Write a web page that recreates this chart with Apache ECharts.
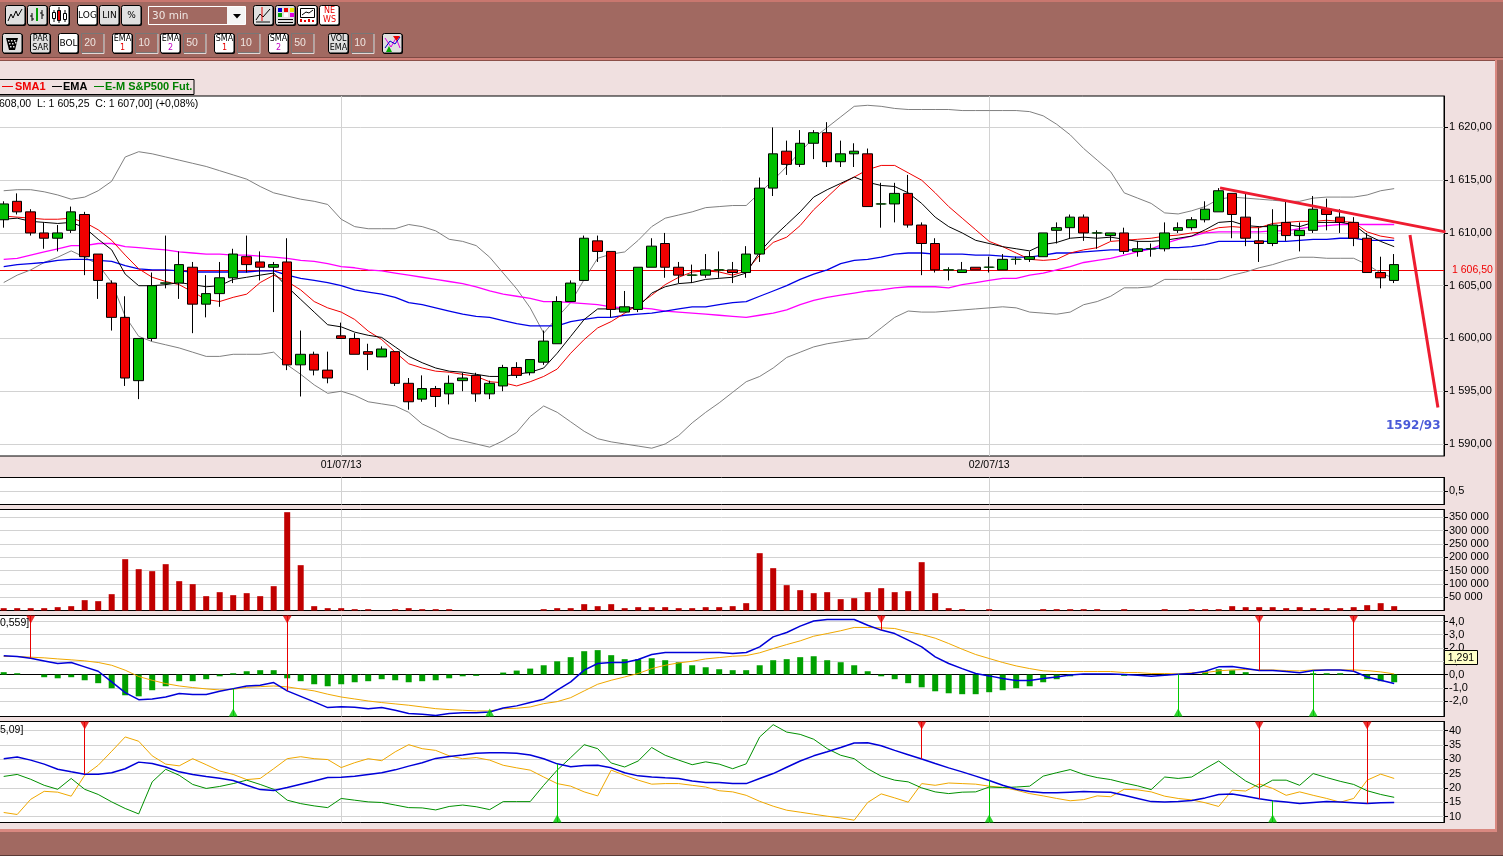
<!DOCTYPE html>
<html><head><meta charset="utf-8">
<style>html,body{margin:0;padding:0;background:#F0E0E0;overflow:hidden}#c{width:1503px;height:856px}</style>
<script src="https://cdn.jsdelivr.net/npm/echarts@6/dist/echarts.min.js"></script></head>
<body><div id="c"></div>
<script>
// ---------- data ----------
const dateTicks = [25, 73];
const dateLabels = ['01/07/13', '02/07/13'];
const priceTicks = [1590,1595,1600,1605,1610,1615,1620];
const ratioTicks = [0.5];
const volumeTicks = [50000,100000,150000,200000,250000,300000,350000];
const macdTicks = [-2,-1,0,1,2,3,4];
const adxTicks = [10,15,20,25,30,35,40];
const lastPrice = 1606.5;

const candleOpen = [1611.25,1613,1612,1610,1609.5,1610.25,1611.75,1608,1605.25,1602,
1596,1600,1605.25,1605.25,1606.75,1603.25,1604.25,1605.75,1607.75,1607.25,
1606.75,1607.25,1597.5,1598.5,1597,1600.25,1600,1598.75,1598.25,1598.75,
1595.75,1594.25,1595.25,1594.75,1596,1596.5,1594.75,1595.5,1597.25,1596.75,
1597.75,1599.5,1603.5,1605.5,1609.25,1608.25,1602.5,1602.75,1606.75,1609,
1606.75,1606,1606,1606.5,1606.5,1606.25,1608,1614.25,1617.75,1616.5,
1618.5,1619.5,1616.75,1617.5,1617.5,1612.75,1612.75,1613.75,1610.75,1609,
1606.5,1606.25,1606.75,1606.75,1606.5,1607.5,1607.5,1607.75,1610.25,1610.5,
1611.5,1610,1609.75,1610,1608.25,1608.5,1608.5,1610.25,1610.5,1611.25,
1612,1613.75,1611.5,1609.25,1609,1611,1609.75,1610.25,1612.25,1611.5,
1611,1609.5,1606.25,1605.5];
const candleClose = [1612.75,1612,1610,1609.5,1610,1612,1607.75,1605.5,1602,1596.25,
1600,1605,1605.25,1607,1603.25,1604.25,1605.75,1608,1607,1606.75,
1607,1597.5,1598.5,1597,1596.25,1600,1598.5,1598.5,1599,1595.75,
1594,1595.25,1594.5,1595.75,1596.25,1594.75,1595.75,1597.25,1596.5,1598,
1599.75,1603.5,1605.25,1609.5,1608.25,1602.75,1603,1606.75,1608.75,1606.75,
1606,1606,1606.5,1606.5,1606.25,1608,1614.25,1617.5,1616.5,1618.5,
1619.5,1616.75,1617.5,1617.75,1612.5,1612.75,1613.75,1610.75,1609,1606.5,
1606.5,1606.5,1606.5,1606.75,1607.5,1607.5,1607.75,1610,1610.5,1611.5,
1610,1610,1610,1608.25,1608.5,1608.5,1610,1610.5,1611.25,1612.25,
1614,1611.75,1609.5,1609,1610.75,1609.75,1610.25,1612.25,1611.75,1611,
1609.5,1606.25,1605.75,1607];
const candleLow = [1610.5,1611.75,1609.75,1608.5,1608.25,1610,1606,1603.75,1600.75,1595.5,
1594.25,1599.75,1604.75,1603.75,1600.5,1602,1603,1605.25,1606.25,1605.5,
1602.5,1597,1594.5,1596.5,1595.75,1600,1598.5,1597,1598.25,1595.5,
1593.25,1594,1593.5,1593.75,1595,1594,1594.25,1595,1596.25,1596.5,
1597.5,1599.5,1603.5,1605.5,1607.25,1602,1602.5,1602.5,1606.75,1605.75,
1605.25,1605.25,1605.75,1605.75,1605.25,1605.75,1607.25,1613.5,1615.5,1616.25,
1617,1616.25,1616.25,1616.25,1612.5,1610.5,1611,1610.5,1606,1606.25,
1605.5,1606.25,1606.5,1606.25,1606.5,1607,1607.25,1607.75,1609,1609.5,
1609.25,1608.5,1609.25,1608,1607.75,1607.75,1608.25,1610,1610.25,1611,
1612,1609.5,1608.75,1607.25,1608.75,1609.25,1608.25,1610,1610.25,1610,
1608.75,1606.25,1604.75,1605.25];
const candleHigh = [1613,1613.75,1612.25,1611,1610.75,1612.5,1612,1608,1605.5,1604,
1600,1606.25,1609.75,1608.25,1607.25,1606,1607.25,1608.5,1609.75,1608.25,
1607.25,1609.5,1600.75,1598.75,1598.75,1601.5,1600.5,1599.5,1599.25,1598.75,
1596.25,1596.5,1595.5,1596.5,1596.75,1596.75,1596,1597.5,1597.75,1598,
1600.75,1604,1605.5,1609.75,1609.75,1608.25,1604.5,1606.75,1609.5,1610,
1607.25,1607,1608,1608.25,1607.25,1608.75,1615.25,1620,1618.75,1619.75,
1619.75,1620.5,1618.75,1618.5,1618,1614.75,1614.75,1615.5,1611,1609.5,
1606.75,1607.25,1606.75,1607.75,1608,1607.75,1608.25,1610,1611,1611.75,
1611.75,1610.25,1610,1610.5,1609.25,1609,1611,1611,1611.5,1613,
1614.25,1613.75,1613.75,1610.5,1612.25,1613,1611,1613.5,1613.25,1612.25,
1611.5,1610,1607.75,1608];

const bollUpper = [1614.0,1614.1,1614.1,1613.9,1613.6,1613.2,1613.4,1614.0,1614.9,1617.2,
1617.7,1617.5,1617.2,1616.9,1616.6,1616.3,1615.9,1615.5,1615.1,1614.4,
1613.8,1613.5,1613.2,1613.0,1612.7,1611.3,1610.6,1610.4,1610.4,1610.4,
1610.8,1610.6,1610.2,1609.4,1609.2,1608.8,1607.7,1606.2,1604.7,1602.9,
1600.5,1602.0,1603.4,1605.6,1607.6,1608.0,1608.2,1609.3,1610.6,1611.4,
1611.7,1612.0,1612.4,1612.5,1612.6,1612.6,1613.8,1615.0,1616.3,1617.7,
1619.0,1620.0,1621.0,1622.0,1622.1,1622.0,1621.8,1621.7,1621.7,1621.7,
1621.7,1621.6,1621.6,1621.6,1621.6,1621.6,1621.5,1621.1,1620.3,1619.3,
1618.0,1616.9,1615.8,1613.8,1613.3,1612.8,1611.9,1611.8,1612.1,1612.5,
1613.2,1613.4,1613.3,1613.2,1613.1,1613.0,1613.0,1613.3,1613.4,1613.4,
1613.4,1613.6,1614.0,1614.2];
const bollLower = [1605.3,1606.0,1606.5,1607.2,1607.7,1608.3,1607.7,1607.0,1605.3,1602.1,
1600.2,1599.7,1599.4,1599.1,1598.7,1598.3,1598.3,1598.5,1598.5,1598.5,
1598.7,1597.5,1596.6,1595.6,1594.8,1595.0,1594.6,1594.0,1593.8,1593.6,
1593.0,1591.9,1591.3,1590.6,1590.3,1590.0,1589.7,1590.3,1591.1,1592.6,
1593.6,1593.0,1592.1,1591.2,1590.5,1590.2,1590.0,1589.8,1589.6,1590.0,
1590.8,1592.0,1593.0,1593.9,1594.9,1595.9,1596.4,1597.2,1598.2,1598.7,
1599.2,1599.5,1599.7,1599.9,1600.0,1601.0,1602.0,1602.6,1602.5,1602.5,
1602.6,1602.7,1602.8,1602.9,1603.0,1602.9,1602.5,1602.4,1602.3,1602.5,
1603.2,1603.5,1604.0,1604.8,1604.8,1604.9,1605.6,1605.6,1605.6,1605.6,
1605.6,1606.0,1606.3,1606.7,1607.0,1607.4,1607.7,1607.7,1607.6,1607.6,
1607.6,1607.0,1606.2,1605.7];
const smaFast = [1611.6,1611.5,1611.4,1611.3,1611.3,1611.4,1611.0,1610.3,1609.3,1607.9,
1606.6,1605.8,1605.4,1605.1,1604.4,1603.7,1603.5,1603.9,1604.2,1605.3,
1606.0,1605.4,1604.6,1603.5,1602.9,1602.5,1601.8,1600.7,1599.9,1598.7,
1597.6,1597.2,1596.9,1596.8,1596.6,1596.4,1595.9,1595.8,1595.5,1595.9,
1596.4,1597.1,1598.6,1599.9,1601.0,1601.6,1602.4,1603.2,1604.1,1605.1,
1605.8,1606.3,1606.4,1606.3,1606.0,1606.4,1607.9,1609.1,1609.6,1610.7,
1612.2,1613.4,1614.6,1615.3,1616.0,1616.4,1616.4,1615.7,1615.0,1613.8,
1612.5,1611.4,1610.3,1609.2,1608.7,1608.1,1607.5,1607.4,1607.5,1608.1,
1608.4,1608.6,1609.2,1609.3,1609.4,1609.5,1609.7,1609.8,1610.0,1610.1,
1610.5,1610.6,1610.5,1610.5,1610.9,1611.0,1611.1,1611.1,1611.2,1611.1,
1611.0,1610.1,1609.7,1609.5];
const emaFast = [1611.3,1611.4,1611.1,1611.0,1610.9,1611.0,1610.5,1609.4,1608.4,1606.1,
1605.0,1605.0,1605.1,1605.3,1605.1,1604.9,1605.0,1605.6,1605.8,1606.0,
1606.2,1604.9,1603.7,1602.5,1601.3,1601.1,1600.6,1600.3,1600.1,1599.2,
1598.3,1597.7,1597.2,1596.9,1596.8,1596.6,1596.4,1596.4,1596.6,1596.8,
1597.2,1598.6,1600.2,1601.8,1602.8,1602.8,1602.8,1603.0,1604.3,1604.9,
1605.2,1605.3,1605.6,1605.7,1605.8,1606.2,1608.2,1609.6,1610.8,1612.0,
1613.4,1614.1,1614.7,1615.3,1614.8,1614.5,1614.4,1613.8,1612.8,1611.5,
1610.6,1610.0,1609.3,1609.0,1608.7,1608.5,1608.3,1608.9,1609.1,1609.5,
1609.6,1609.5,1609.6,1609.4,1609.2,1609.2,1609.3,1609.5,1609.7,1610.3,
1611.0,1611.1,1610.7,1610.6,1610.6,1610.8,1610.6,1611.0,1611.0,1611.0,
1610.8,1609.8,1609.2,1608.7];
const emaSlow = [1606.8,1607.0,1607.1,1607.2,1607.4,1607.5,1607.5,1607.4,1607.3,1606.9,
1606.6,1606.5,1606.5,1606.4,1606.3,1606.3,1606.3,1606.3,1606.3,1606.4,
1606.4,1606.0,1605.7,1605.5,1605.3,1605.0,1604.6,1604.4,1604.2,1603.9,
1603.4,1603.2,1602.9,1602.6,1602.3,1602.1,1602.0,1601.7,1601.4,1601.2,
1601.2,1601.2,1601.6,1601.8,1602.0,1602.0,1602.2,1602.3,1602.4,1602.6,
1602.8,1603.0,1603.0,1603.2,1603.4,1603.5,1604.0,1604.5,1605.0,1605.6,
1606.1,1606.5,1607.1,1607.4,1607.5,1607.7,1608.0,1608.1,1608.1,1608.0,
1608.0,1608.0,1607.9,1607.9,1607.8,1607.7,1607.7,1607.9,1608.1,1608.1,
1608.2,1608.3,1608.4,1608.4,1608.4,1608.5,1608.6,1608.6,1608.7,1608.9,
1609.2,1609.2,1609.2,1609.2,1609.2,1609.2,1609.3,1609.4,1609.4,1609.5,
1609.5,1609.3,1609.3,1609.3];
const smaSlow = [1607.5,1607.6,1607.9,1608.2,1608.5,1608.8,1608.8,1609.0,1609.0,1608.7,
1608.6,1608.5,1608.4,1608.2,1608.1,1608.0,1608.0,1607.9,1607.9,1607.8,
1607.7,1607.6,1607.4,1607.3,1607.1,1606.8,1606.7,1606.5,1606.4,1606.2,
1606.0,1605.8,1605.6,1605.4,1605.2,1604.9,1604.5,1604.2,1604.0,1603.8,
1603.5,1603.5,1603.4,1603.3,1603.2,1603.0,1602.9,1602.9,1602.8,1602.6,
1602.5,1602.4,1602.3,1602.2,1602.1,1602.0,1602.2,1602.4,1602.7,1603.2,
1603.6,1603.9,1604.1,1604.3,1604.5,1604.6,1604.8,1604.9,1604.9,1604.9,
1604.8,1605.1,1605.3,1605.5,1605.7,1605.7,1606.0,1606.2,1606.5,1606.8,
1607.2,1607.4,1607.6,1607.9,1608.2,1608.5,1609.0,1609.4,1609.7,1610.0,
1610.1,1610.1,1610.1,1610.1,1610.2,1610.2,1610.4,1610.6,1610.7,1610.8,
1610.8,1610.8,1610.8,1610.8];
const trendLineA = [[90.1,1614.27],[106.8,1610.1]];
const trendLineB = [[104.17,1609.8],[106.24,1593.45]];

const volume = [8750,8750,8750,8750,12500,16250,38750,35000,61250,192500,
155000,147500,173750,110000,98750,53750,68750,57500,65000,53750,
91250,368750,170000,16250,8750,8750,5000,5000,0,5000,
8750,5000,5000,5000,0,0,0,0,0,0,
5000,8750,8750,23750,16250,23750,8750,12500,12500,12500,
8750,8750,12500,12500,16250,27500,215000,158750,95000,76250,
65000,68750,42500,46250,68750,83750,68750,72500,181250,65000,
8750,5000,0,5000,0,0,0,5000,5000,5000,
5000,5000,0,5000,0,0,5000,0,5000,5000,
5000,16250,12500,12500,12500,8750,12500,8750,8750,8750,
12500,20000,27500,16250];

const macdHist = [0.18,0.10,0,-0.2,-0.28,-0.2,-0.43,-0.65,-1.03,-1.56,
-1.64,-1.18,-0.88,-0.5,-0.5,-0.35,-0.13,0.1,0.25,0.33,
0.33,-0.28,-0.5,-0.73,-0.88,-0.73,-0.58,-0.5,-0.35,-0.43,
-0.58,-0.5,-0.43,-0.28,-0.13,-0.1,0,0.15,0.3,0.45,
0.7,1.0,1.31,1.76,1.84,1.46,1.16,1.16,1.23,1.08,
0.93,0.7,0.55,0.4,0.33,0.33,0.7,1.08,1.16,1.31,
1.38,1.08,0.93,0.7,0.25,-0.13,-0.35,-0.65,-0.96,-1.26,
-1.41,-1.48,-1.48,-1.33,-1.18,-1.03,-0.88,-0.58,-0.35,-0.13,
0,0,0,-0.1,0,0,-0.05,0,0,0.25,
0.4,0.33,0.18,0,0,0,0,0.1,0.1,0.1,
0,-0.35,-0.5,-0.58];
const macdLine = [1.41,1.36,1.23,1.03,0.83,0.91,0.58,0.25,-0.55,-1.36,
-1.89,-1.84,-1.69,-1.43,-1.51,-1.51,-1.26,-1.06,-0.86,-0.81,
-0.6,-1.23,-1.64,-2.06,-2.49,-2.42,-2.47,-2.57,-2.49,-2.69,
-2.94,-2.99,-3.09,-2.94,-2.87,-2.87,-2.82,-2.52,-2.36,-2.11,
-1.86,-1.18,-0.55,0.33,0.83,0.91,0.91,1.13,1.51,1.66,
1.66,1.66,1.66,1.66,1.58,1.66,2.09,2.84,3.17,3.65,
4.03,4.15,4.15,4.15,3.72,3.35,3.09,2.59,2.09,1.33,
0.83,0.45,0.08,-0.1,-0.3,-0.45,-0.45,-0.3,-0.18,-0.03,
0.05,0.05,0.05,0,-0.05,-0.13,-0.05,0.03,0.08,0.25,
0.58,0.6,0.45,0.3,0.3,0.23,0.13,0.3,0.35,0.35,
0.25,-0.18,-0.43,-0.68];
const macdSignal = [1.36,1.36,1.31,1.26,1.18,1.11,1.03,0.91,0.7,0.33,
-0.15,-0.43,-0.68,-0.86,-0.98,-1.08,-1.16,-1.11,-0.96,-0.91,
-0.86,-0.93,-1.08,-1.23,-1.48,-1.69,-1.84,-1.99,-2.11,-2.21,
-2.31,-2.44,-2.57,-2.64,-2.69,-2.74,-2.74,-2.57,-2.54,-2.44,
-2.19,-2.04,-1.74,-1.23,-0.73,-0.43,-0.18,0.08,0.45,0.7,
0.88,1.0,1.18,1.28,1.38,1.43,1.64,1.96,2.26,2.54,
2.89,3.09,3.3,3.55,3.55,3.52,3.47,3.22,3.02,2.74,
2.34,1.91,1.51,1.21,0.91,0.65,0.45,0.28,0.23,0.23,
0.23,0.23,0.23,0.15,0.15,0.08,0.08,0.05,0.13,0.15,
0.28,0.35,0.38,0.35,0.35,0.3,0.28,0.35,0.35,0.35,
0.35,0.3,0.2,0.05];
const macdSellBars = [2,21,65,93,100];
const macdBuyBars = [17,36,87,97];

const adxLine = [30.2,30.8,29.7,28.3,26.5,25.6,24.8,24.8,25.3,26.7,
29.0,28.5,27.3,25.6,24.7,24.0,23.4,22.6,20.9,19.4,
19.1,20.1,21.3,22.4,23.6,23.7,24.1,24.7,25.3,26.3,
27.6,28.8,30.3,31.0,31.5,32.1,32.3,32.3,32.1,31.5,
30.2,28.4,27.4,27.8,27.9,27.0,25.3,24.2,23.8,23.5,
23.3,22.4,21.9,21.9,21.5,21.5,23.3,25.0,27.2,29.4,
31.2,32.6,34.1,35.7,35.8,34.7,33.1,31.6,30.1,28.5,
27.0,25.6,24.1,22.6,20.9,19.5,18.7,18.3,18.3,18.5,
18.7,18.6,18.5,17.4,16.3,15.2,15.1,15.2,15.6,16.5,
17.7,17.9,17.1,16.2,15.5,15.1,14.5,14.9,15.2,15.1,
14.8,14.5,14.8,14.9];
const diGreen = [24,24.7,23,20.9,19.5,23.3,19.5,17.7,15.1,12.8,
10.9,22.1,26.5,24.4,21.2,19.8,20.5,21.5,22.7,21.2,
19.5,15.7,14.5,13.7,13.1,16.3,15.7,15.1,14.9,14,
13.1,13,12.3,13.5,14,13.4,12.4,15.2,15.2,15.2,
20.9,26.2,30.6,35.1,33.7,28.7,27.3,29.4,34.1,31.4,
29.7,28.1,29.1,28.3,26.7,28.4,37.8,42.1,39.5,38.7,
37,33.7,31.4,30.2,26.7,24.1,22.7,22.1,20,18.6,
18,18.5,18.6,20.3,20.1,20.3,20.6,24.1,25.3,26.4,
24.7,23.6,22.9,21.7,20.7,19.4,23.8,23.3,23.8,26.7,
29.4,25.8,22.4,20.1,22.7,22.7,20.9,25,23.6,22.3,
21.2,19,17.7,16.7];
const diOrange = [11.4,10.7,16,18.8,18.5,17.1,24.4,27.9,32.8,37.8,
36.3,31.2,28.3,27.7,30.2,28.1,25.9,24.7,22.9,23.3,
26.7,30.2,30.9,30.2,29.9,27.1,28.8,30.2,29.5,32.6,
35.1,33.7,33.1,31.2,30.2,30.6,29.7,27.9,27,26.2,
23.8,21.5,20.6,18.6,17.2,26.2,24.4,22.7,21.3,21.5,
21.5,20.9,20.3,19,18.6,17.4,15.3,13.6,12.2,11.5,
10.8,10.1,9.5,8.7,14.9,17.9,16.5,15,21.5,20.9,
21.7,21.5,21.3,20.6,20.2,19.2,18,17.2,16.3,15.5,
15.9,17.2,16.9,19.5,19.3,18.6,17.1,16.3,15.8,14.8,
13.5,19.2,18.9,21.4,19.8,17.4,18.6,17.4,16.3,15,
16.3,22.7,24.8,23.3];
const adxSellBars = [6,68,93,101];
const adxBuyBars = [41,73,94];

// ---------- layout ----------
const FONT = '"Liberation Sans", Arial, sans-serif';
const X_MIN = -0.348, X_MAX = 106.69;
const panes = [
 {top:96, height:360, min:1588.86, max:1622.98},
 {top:477.5, height:27, min:0, max:1},
 {top:509.5, height:101, min:0, max:378800},
 {top:615.5, height:101, min:-3.16, max:4.45},
 {top:721.5, height:101, min:7.9, max:43.2}
];
const tickSets = [priceTicks, ratioTicks, volumeTicks, macdTicks, adxTicks];
const fmt = [
 v => { const s = v.toFixed(2).replace('.',','); return s[0] + ' ' + s.slice(1); },
 v => v.toFixed(1).replace('.',','),
 v => { const s = String(v); return s.slice(0,-3) + ' ' + s.slice(-3); },
 v => v.toFixed(1).replace('.',','),
 v => String(v)
];
const grids = panes.map(p => ({left:-1, width:1445, top:p.top, height:p.height, show:true, outerBoundsMode:'none',
  backgroundColor:'#fff', borderColor:'#000', borderWidth:1, containLabel:false}));
const xAxes = panes.map((p,i) => ({type:'value', gridIndex:i, min:X_MIN, max:X_MAX, position:'bottom',
  axisLine: i===3 ? {show:true, onZero:true, lineStyle:{color:'#000',width:1}} : {show:false, onZero:false},
  axisTick:{show:false, customValues:dateTicks},
  axisLabel: i===0 ? {show:true, customValues:dateTicks, margin:4, fontSize:10.5, fontFamily:FONT, color:'#000',
      formatter:v => dateLabels[dateTicks.indexOf(v)]} : {show:false},
  splitLine:{show:true, lineStyle:{color:'#d2d2d2',width:1}}}));
const yAxes = panes.map((p,i) => ({type:'value', gridIndex:i, min:p.min, max:p.max, position:'right', scale:true,
  axisLine:{show:true, onZero:false, lineStyle:{color:'#000'}},
  axisTick:{show:true, length:4, lineStyle:{color:'#000'}, customValues:tickSets[i]},
  axisLabel:{show:true, customValues:tickSets[i], margin:5, fontSize:11, fontFamily:FONT, color:'#000', formatter:fmt[i]},
  splitLine:{show:true, lineStyle:{color:'#d2d2d2',width:1}}}));

const idx = a => a.map((v,i) => [i,v]);
const lineS = (name, data, pane, color, width, z) => ({name, type:'line', xAxisIndex:pane, yAxisIndex:pane, data,
  showSymbol:false, symbol:'none', silent:true, animation:false, z, clip:true,
  lineStyle:{color, width}, itemStyle:{color}});

function signals(name, bars, line, pane, color, fromTop){
  const p = panes[pane];
  const edge = fromTop ? p.max : p.min;
  return [
   {name:name+' stem', type:'line', xAxisIndex:pane, yAxisIndex:pane, data:[], z:6, silent:true, animation:false,
    markLine:{silent:true, symbol:'none', animation:false, label:{show:false}, lineStyle:{color,width:1,type:'solid'},
      data:bars.map(b => [{coord:[b,edge]},{coord:[b,line[b]]}])}},
   {name:name+' mark', type:'scatter', xAxisIndex:pane, yAxisIndex:pane, clip:false, silent:true, animation:false, z:7,
    data:bars.map(b => [b,edge]), symbol:'triangle', symbolSize:[9,8],
    symbolRotate: fromTop ? 180 : 0, symbolOffset:[0, fromTop ? 4 : -4], itemStyle:{color}}
  ];
}

const dojiBars = candleOpen.map((o,i) => o===candleClose[i] ? [i,o] : null).filter(Boolean);
const series = [
 Object.assign(lineS('Last', [], 0, '#f00000', 1, 1), {
   markLine:{silent:true, symbol:'none', animation:false, z:1, lineStyle:{color:'#f00000',width:1,type:'solid'},
     label:{show:true, position:'end', distance:8, formatter:()=>fmt[0](lastPrice), color:'#f00000', fontSize:10.5, fontFamily:FONT},
     data:[{yAxis:lastPrice}]}}),
 lineS('Boll upper', idx(bollUpper), 0, '#808080', 1, 2),
 lineS('Boll lower', idx(bollLower), 0, '#808080', 1, 2),
 lineS('SMA2', idx(smaSlow), 0, '#ff00ff', 1.3, 3),
 lineS('EMA2', idx(emaSlow), 0, '#0000e6', 1.3, 3),
 lineS('SMA1', idx(smaFast), 0, '#f00000', 1, 3),
 lineS('EMA1', idx(emaFast), 0, '#000000', 1, 3),
 {name:'E-M S&P500 Fut.', type:'candlestick', xAxisIndex:0, yAxisIndex:0, barWidth:10, silent:true, animation:false, z:5, clip:true,
  data:candleOpen.map((o,i) => [i,o,candleClose[i],candleLow[i],candleHigh[i]]),
  itemStyle:{color:'#00c000', color0:'#f00000', borderColor:'#000', borderColor0:'#000', borderColorDoji:'#000', borderWidth:1}},
 {name:'Doji', type:'scatter', xAxisIndex:0, yAxisIndex:0, data:dojiBars, symbol:'rect', symbolSize:[11,1], silent:true, animation:false, z:6,
  itemStyle:{color:'#007800'}},
 lineS('Trend A', trendLineA, 0, '#ee1c30', 3, 8),
 lineS('Trend B', trendLineB, 0, '#ee1c30', 3, 8),
 {name:'Volume', type:'bar', xAxisIndex:2, yAxisIndex:2, barWidth:6, data:idx(volume), silent:true, animation:false,
  itemStyle:{color:'#c00000'}, z:3},
 {name:'MACD hist', type:'bar', xAxisIndex:3, yAxisIndex:3, barWidth:6, data:idx(macdHist), silent:true, animation:false,
  itemStyle:{color:'#00a000'}, z:2},
 lineS('MACD signal', idx(macdSignal), 3, '#f0a800', 1, 3),
 lineS('MACD', idx(macdLine), 3, '#0000d8', 1.5, 4),
 ...signals('MACD sell', macdSellBars, macdLine, 3, '#e80000', true),
 ...signals('MACD buy', macdBuyBars, macdLine, 3, '#00c800', false),
 lineS('DI orange', idx(diOrange), 4, '#f0a800', 1, 3),
 lineS('DI green', idx(diGreen), 4, '#009000', 1, 3),
 lineS('ADX', idx(adxLine), 4, '#0000d8', 1.5, 4),
 ...signals('ADX sell', adxSellBars, adxLine, 4, '#e80000', true),
 ...signals('ADX buy', adxBuyBars, adxLine, 4, '#00c800', false)
];

// ---------- window chrome ----------
const BROWN = '#a16961', PINK = '#f0e0e0', GREY = '#e0e0e0';
const g = [];
const rect = (x,y,w,h,fill,stroke,r) => g.push({type:'rect', z:50, silent:true, shape:{x,y,width:w,height:h,r:r||0},
   style:{fill:fill||'none', stroke:stroke||'none', lineWidth:1}});
const text = (x,y,t,o) => g.push({type:'text', z:60, silent:true, x, y, style:Object.assign({text:t, fill:'#000',
   font:'10.5px '+FONT, textAlign:'left', textVerticalAlign:'middle'}, o||{})});
const poly = (pts,stroke,w) => g.push({type:'polyline', z:55, silent:true, shape:{points:pts}, style:{stroke, lineWidth:w||1, fill:'none'}});

rect(0,0,1503,58,BROWN); rect(0,0,1503,2,'#c9776f'); rect(0,57,1503,1,'#7f4a44'); rect(0,58,1503,2,'#cf7f77'); rect(0,60,1503,1,'#8c5049');
rect(0,829,1503,3,'#d98880'); rect(0,832,1503,24,BROWN); rect(0,855,1503,1,'#5a3a36');
rect(1495,60,8,772,BROWN); rect(1495,60,2,772,'#d98880');

function button(x,y,w,h,fill,lines,colors){
  rect(x+1,y+1,w,h,'#000',null,2);
  rect(x+.5,y+.5,w-.5,h-.5,fill,'#000',2);
  (lines||[]).forEach((t,i,a) => text(x+w/2+.5, y+h/2+.5+(i-(a.length-1)/2)*9, t,
    {textAlign:'center', font:(a.length>1?'8px ':'9px ')+'"DejaVu Sans", sans-serif', fill:(colors&&colors[i])||'#000'}));
}
function field(x,y,t){
  rect(x+.5,y+.5,22,19,BROWN,'#777777');
  poly([[x+23,y+1],[x+23,y+20.5],[x+1,y+20.5]],'#e4d8d6',1);
  text(x+9,y+10.5,t,{textAlign:'center', fill:'#efe6e2', font:'10.5px '+FONT});
}
// first row
button(5,5,20,20,GREY);
poly([[8,21],[11,14],[13,18],[16,11],[18,16],[22,9]],'#000',1);
button(27,5,20,20,GREY);
poly([[32,13],[32,21]],'#000',1); poly([[30,16],[32,16]],'#000',1); poly([[32,19],[34,19]],'#000',1);
poly([[37,8],[37,21]],'#00a000',2); poly([[42,10],[42,19]],'#000',1); poly([[40,13],[42,13]],'#000',1); poly([[42,15],[44,15]],'#000',1);
button(49,5,20,20,'#fff');
poly([[54,10],[54,22]],'#000',1); poly([[59,7],[59,23]],'#000',1); poly([[65,10],[65,22]],'#000',1);
g.push({type:'rect', z:56, silent:true, shape:{x:52.5,y:12.5,width:3,height:6}, style:{fill:'#fff',stroke:'#000'}});
g.push({type:'rect', z:56, silent:true, shape:{x:57.5,y:10.5,width:3,height:10}, style:{fill:'#e80000',stroke:'#000'}});
g.push({type:'rect', z:56, silent:true, shape:{x:63.5,y:13.5,width:3,height:6}, style:{fill:'#fff',stroke:'#000'}});
button(77,5,20,20,'#fff',['LOG']);
button(99,5,20,20,GREY,['LIN']);
button(121,5,20,20,GREY,['%']);
rect(148.5,6.5,97,18,BROWN,'#ffffff'); rect(227,7,18,17,'#f5f5f5');
text(152,16,'30 min',{fill:'#efe6e2', font:'10.5px "DejaVu Sans", sans-serif'});
g.push({type:'polygon', z:60, silent:true, shape:{points:[[233,14],[241,14],[237,18.5]]}, style:{fill:'#000'}});
button(253,5,20,20,GREY);
poly([[256,20],[260,14],[263,17],[270,9]],'#000',1); poly([[262,7],[262,22]],'#e80000',1); poly([[256,22],[270,22]],'#777',2);
button(275,5,20,20,GREY);
[[278,8,'#0000d0'],[284,8,'#e80000'],[290,8,'#e8e800'],[278,13,'#00a000'],[284,13,'#ffffff'],[290,13,'#e000e0']].forEach(c =>
  g.push({type:'rect', z:56, silent:true, shape:{x:c[0],y:c[1],width:4,height:4}, style:{fill:c[2]}}));
poly([[278,19.5],[293,19.5]],'#000',1); poly([[278,22.5],[293,22.5]],'#000',1);
button(297,5,20,20,'#fff');
g.push({type:'rect', z:54, silent:true, shape:{x:300.5,y:8.5,width:14,height:9}, style:{fill:'#fff',stroke:'#000'}});
poly([[302,15],[306,12],[309,13],[313,10]],'#000',1);
poly([[301,22],[301,19]],'#e80000',2); poly([[305,22],[305,20]],'#e80000',2); poly([[309,22],[309,19]],'#e80000',2); poly([[313,22],[313,20]],'#e80000',2);
button(319,5,20,20,'#fff',['NE','WS'],['#e80000','#e80000']);
// second row
button(2,33,20,20,GREY);
g.push({type:'polygon', z:56, silent:true, shape:{points:[[6,38],[18,38],[15,50],[9,50]]}, style:{fill:'#000'}});
[[8,40],[11,40],[14,40],[9,43],[12,43],[15,42],[10,46],[13,46]].forEach(p =>
  g.push({type:'rect', z:57, silent:true, shape:{x:p[0],y:p[1],width:1.5,height:1.5}, style:{fill:'#dddddd'}}));
button(30,33,20,20,GREY,['PAR','SAR']);
button(58,33,20,20,'#fff',['BOL']);
field(81,33,'20');
button(112,33,20,20,'#fff',['EMA','1'],['#000','#e80000']);
field(135,33,'10');
button(160,33,20,20,'#fff',['EMA','2'],['#000','#c000c0']);
field(183,33,'50');
button(214,33,20,20,'#fff',['SMA','1'],['#000','#e80000']);
field(237,33,'10');
button(268,33,20,20,'#fff',['SMA','2'],['#000','#c000c0']);
field(291,33,'50');
button(328,33,20,20,GREY,['VOL','EMA']);
field(351,33,'10');
button(382,33,20,20,GREY);
poly([[385,38],[391,47],[396,38],[400,48]],'#e000e0',1); poly([[385,48],[390,41],[395,44],[400,37]],'#0000d0',1);
g.push({type:'polygon', z:56, silent:true, shape:{points:[[393,36],[400,36],[396.5,41]]}, style:{fill:'#e80000'}});
g.push({type:'polygon', z:56, silent:true, shape:{points:[[386,52],[392,52],[389,46]]}, style:{fill:'#00b000'}});
// legend strip
rect(-2,79.5,196,15,PINK,'#000');
poly([[2,86.5],[13,86.5]],'#f00000',1);
text(15,87,'SMA1',{fill:'#f00000', font:'bold 11px '+FONT});
poly([[52,86.5],[62,86.5]],'#000',1);
text(63,87,'EMA',{fill:'#000', font:'bold 11px '+FONT});
poly([[94,86.5],[104,86.5]],'#008000',1);
text(105,87,'E-M S&P500 Fut.',{fill:'#008000', font:'bold 11px '+FONT});
// pane captions
text(-1,104,'608,00  L: 1 605,25  C: 1 607,00] (+0,08%)',{});
text(0,623,'0,559]',{});
text(0,730,'5,09]',{});
// annotation and value flag
text(1386,426,'1592/93',{fill:'#4a5ad8', font:'bold 12px "DejaVu Sans", sans-serif'});
rect(1444.5,650.5,33,14,'#ffffc8','#000');
text(1461,658,'1,291',{textAlign:'center'});

const chart = echarts.init(document.getElementById('c'), null, {renderer:'canvas', width:1503, height:856});
chart.setOption({animation:false, backgroundColor:PINK, grid:grids, xAxis:xAxes, yAxis:yAxes, series, graphic:{elements:g}});
</script></body></html>
